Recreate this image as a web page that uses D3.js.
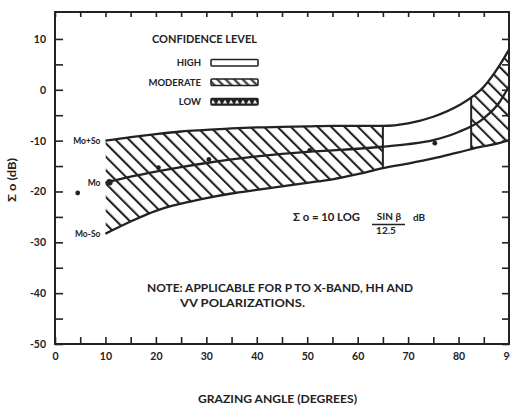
<!DOCTYPE html>
<html>
<head>
<meta charset="utf-8">
<script src="https://cdn.jsdelivr.net/npm/d3@7/dist/d3.min.js"></script>
<style>
  body { margin: 0; background: #fff; }
  svg { display: block; }
  text { font-family: Lato, "DejaVu Sans", sans-serif; font-weight: bold; fill: #222; }
</style>
</head>
<body>
<svg id="chart" width="510" height="406"></svg>
<script>
const angles = [10, 15, 20, 25, 30, 35, 40, 45, 50, 55, 60, 65, 70, 75, 80, 85, 88, 90];
const upperDb = [-10.0, -9.3, -8.7, -8.2, -7.9, -7.6, -7.4, -7.3, -7.2, -7.1, -7.1, -7.1, -6.6, -5.3, -3.1, 0.6, 4.6, 7.9];
const meanDb = [-18.3, -17.1, -16.1, -15.2, -14.4, -13.7, -13.1, -12.6, -12.2, -11.9, -11.6, -11.2, -10.7, -9.9, -8.3, -5.6, -2.6, 0.7];
const lowerDb = [-28.3, -25.9, -23.8, -22.4, -21.3, -20.4, -19.7, -19.0, -18.3, -17.6, -16.6, -15.4, -14.5, -13.5, -12.3, -11.1, -10.5, -9.9];

const pointAngles = [4.5, 10.8, 20.5, 30.5, 50.5, 75.3];
const pointDb = [-20.3, -18.2, -15.3, -13.7, -11.9, -10.5];

const moderateRanges = [[10, 65], [82.5, 90]];
const regionEdges = [65, 82.5];

const xTicks = d3.range(0, 95, 5);
const yTicks = d3.range(-50, 15, 5);
const legendLevels = ["HIGH", "MODERATE", "LOW"];

const svg = d3.select("#chart");
const dark = "#222";

const x = d3.scaleLinear().domain([0, 90]).range([55, 509]);
const y = d3.scaleLinear().domain([-50, 15.3]).range([344, 12]);

const defs = svg.append("defs");

// diagonal hatching, lines running down to the right
defs.append("pattern")
  .attr("id", "hatch")
  .attr("patternUnits", "userSpaceOnUse")
  .attr("width", 9.5)
  .attr("height", 9.5)
  .attr("patternTransform", "rotate(-45)")
  .append("line")
  .attr("x1", 2).attr("y1", 0).attr("x2", 2).attr("y2", 9.5)
  .attr("stroke", dark)
  .attr("stroke-width", 2.1);

defs.append("pattern")
  .attr("id", "hatchSmall")
  .attr("patternUnits", "userSpaceOnUse")
  .attr("width", 6)
  .attr("height", 6)
  .attr("patternTransform", "rotate(-45)")
  .append("line")
  .attr("x1", 1.5).attr("y1", 0).attr("x2", 1.5).attr("y2", 6)
  .attr("stroke", dark)
  .attr("stroke-width", 2);

const lowPat = defs.append("pattern")
  .attr("id", "lowFill")
  .attr("patternUnits", "userSpaceOnUse")
  .attr("width", 6)
  .attr("height", 7);
lowPat.append("rect").attr("width", 6).attr("height", 7).attr("fill", dark);
lowPat.append("path").attr("d", "M0.8,5.5 L3,1.8 L5.2,5.5 Z").attr("fill", "#eee");

const rows = angles.map((a, i) => ({ a, up: upperDb[i], mid: meanDb[i], lo: lowerDb[i] }));

const band = d3.area()
  .x(d => x(d.a))
  .y0(d => y(d.lo))
  .y1(d => y(d.up))
  .curve(d3.curveMonotoneX);

const bandClip = defs.append("clipPath").attr("id", "bandClip");
bandClip.append("path").attr("d", band(rows));

const modClip = defs.append("clipPath").attr("id", "modClip");
moderateRanges.forEach(r => {
  modClip.append("rect")
    .attr("x", x(r[0]))
    .attr("y", 0)
    .attr("width", x(r[1]) - x(r[0]))
    .attr("height", 406);
});

svg.append("path")
  .attr("d", band(rows))
  .attr("fill", "url(#hatch)")
  .attr("clip-path", "url(#modClip)");

svg.selectAll(".edge")
  .data(regionEdges)
  .enter()
  .append("line")
  .attr("class", "edge")
  .attr("x1", d => x(d)).attr("x2", d => x(d))
  .attr("y1", y(-50)).attr("y2", y(15))
  .attr("stroke", dark)
  .attr("stroke-width", 2)
  .attr("clip-path", "url(#bandClip)");

const lineFor = key => d3.line()
  .x(d => x(d.a))
  .y(d => y(d[key]))
  .curve(d3.curveMonotoneX);

["up", "mid", "lo"].forEach(k => {
  svg.append("path")
    .attr("d", lineFor(k)(rows))
    .attr("fill", "none")
    .attr("stroke", dark)
    .attr("stroke-width", 2.3);
});

svg.selectAll(".pt")
  .data(pointAngles)
  .enter()
  .append("circle")
  .attr("class", "pt")
  .attr("cx", d => x(d))
  .attr("cy", (d, i) => y(pointDb[i]))
  .attr("r", (d, i) => i === 1 ? 3.2 : 2.4)
  .attr("fill", dark);

// axes: inward ticks every 5, labels every 10
const axBottom = svg.append("g")
  .attr("transform", `translate(0, ${y(-50)})`)
  .call(d3.axisBottom(x).tickValues(xTicks).tickSizeInner(-7).tickSizeOuter(0)
    .tickPadding(9).tickFormat(d => d % 10 === 0 ? d : ""));

const axLeft = svg.append("g")
  .attr("transform", `translate(${x(0)}, 0)`)
  .call(d3.axisLeft(y).tickValues(yTicks).tickSizeInner(-8).tickSizeOuter(0)
    .tickPadding(9).tickFormat(d => d % 10 === 0 ? d : ""));

const axTop = svg.append("g")
  .attr("transform", `translate(0, ${y(15.3)})`)
  .call(d3.axisTop(x).tickValues(xTicks).tickSizeInner(-5).tickSizeOuter(0).tickFormat(""));

const axRight = svg.append("g")
  .attr("transform", `translate(${x(90)}, 0)`)
  .call(d3.axisRight(y).tickValues(yTicks).tickSizeInner(-7).tickSizeOuter(0).tickFormat(""));

[axBottom, axLeft, axTop, axRight].forEach(g => {
  g.select(".domain").remove();
  g.selectAll("line").attr("stroke", dark).attr("stroke-width", 1.6);
  g.selectAll("text").attr("font-size", 10.5).attr("fill", dark)
    .attr("font-family", "Lato, sans-serif").attr("font-weight", "bold");
});

svg.append("rect")
  .attr("x", x(0)).attr("y", y(15.3))
  .attr("width", x(90) - x(0)).attr("height", y(-50) - y(15.3))
  .attr("fill", "none")
  .attr("stroke", dark)
  .attr("stroke-width", 2);

// curve labels
const curveLabels = [["Mo+So", upperDb[0]], ["Mo", meanDb[0]], ["Mo-So", lowerDb[0]]];
svg.selectAll(".clab")
  .data(curveLabels)
  .enter()
  .append("text")
  .attr("class", "clab")
  .attr("x", x(10) - 5)
  .attr("y", d => y(d[1]))
  .attr("dy", "0.35em")
  .attr("text-anchor", "end")
  .attr("font-size", 8.5)
  .text(d => d[0]);

// legend
svg.append("text")
  .attr("x", 152).attr("y", 43)
  .attr("font-size", 11)
  .attr("textLength", 105).attr("lengthAdjust", "spacingAndGlyphs")
  .text("CONFIDENCE LEVEL");

const legendFills = ["#fff", "url(#hatchSmall)", "url(#lowFill)"];
const legendY = [59.5, 79, 98.5];

svg.selectAll(".leg")
  .data(legendLevels)
  .enter()
  .append("rect")
  .attr("class", "leg")
  .attr("x", 211)
  .attr("y", (d, i) => legendY[i])
  .attr("width", 47)
  .attr("height", 6.5)
  .attr("rx", 1)
  .attr("fill", (d, i) => legendFills[i])
  .attr("stroke", dark)
  .attr("stroke-width", 1.6);

svg.selectAll(".legt")
  .data(legendLevels)
  .enter()
  .append("text")
  .attr("class", "legt")
  .attr("x", 201)
  .attr("y", (d, i) => legendY[i] + 6.5)
  .attr("text-anchor", "end")
  .attr("font-size", 9.5)
  .text(d => d);

// formula
svg.append("text")
  .attr("x", 293).attr("y", 221)
  .attr("font-size", 10.5)
  .attr("textLength", 67).attr("lengthAdjust", "spacingAndGlyphs")
  .text("Σ o = 10 LOG");
svg.append("text")
  .attr("x", 389).attr("y", 220)
  .attr("text-anchor", "middle")
  .attr("font-size", 10)
  .text("SIN β");
svg.append("line")
  .attr("x1", 372).attr("x2", 405)
  .attr("y1", 224.5).attr("y2", 224.5)
  .attr("stroke", dark).attr("stroke-width", 1.5);
svg.append("text")
  .attr("x", 386).attr("y", 233.5)
  .attr("text-anchor", "middle")
  .attr("font-size", 10)
  .text("12.5");
svg.append("text")
  .attr("x", 413).attr("y", 221)
  .attr("font-size", 10)
  .text("dB");

// note
svg.append("text")
  .attr("x", 147).attr("y", 291.5)
  .attr("font-size", 10.5)
  .attr("textLength", 266).attr("lengthAdjust", "spacingAndGlyphs")
  .text("NOTE:  APPLICABLE FOR P TO X-BAND, HH AND");
svg.append("text")
  .attr("x", 180).attr("y", 306.5)
  .attr("font-size", 10.5)
  .attr("textLength", 125).attr("lengthAdjust", "spacingAndGlyphs")
  .text("VV POLARIZATIONS.");

// axis titles
svg.append("text")
  .attr("x", 198).attr("y", 403)
  .attr("font-size", 10.5)
  .attr("textLength", 159).attr("lengthAdjust", "spacingAndGlyphs")
  .text("GRAZING ANGLE (DEGREES)");

svg.append("text")
  .attr("transform", "translate(16, 180) rotate(-90)")
  .attr("text-anchor", "middle")
  .attr("font-size", 11)
  .attr("textLength", 44).attr("lengthAdjust", "spacingAndGlyphs")
  .text("Σ o (dB)");
</script>
</body>
</html>
